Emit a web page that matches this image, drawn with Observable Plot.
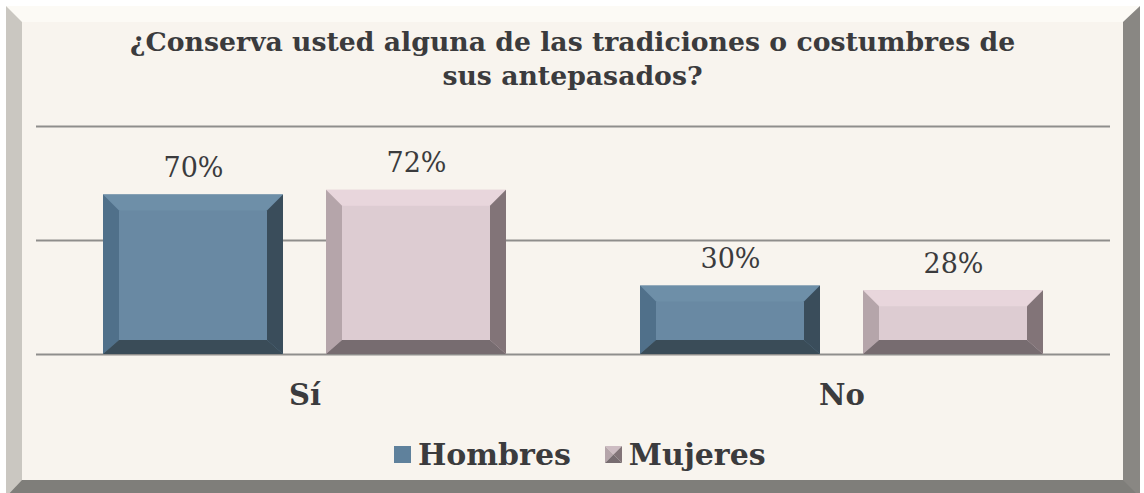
<!DOCTYPE html>
<html>
<head>
<meta charset="utf-8">
<script src="https://cdn.jsdelivr.net/npm/d3@7"></script>
<script src="https://cdn.jsdelivr.net/npm/@observablehq/plot@0.6"></script>
<style>
  html, body { margin: 0; padding: 0; background: #ffffff; }
  #wrap { position: relative; width: 1144px; height: 493px; overflow: hidden; background: #fff; }
  #frame { position: absolute; left: 6px; top: 6px; width: 1101px; height: 458px;
    background: #F8F4EE;
    border-top: 16px solid #FCFAF5; border-left: 16px solid #CAC7C1;
    border-right: 17px solid #898783; border-bottom: 17px solid #7F7E7A; }
  #title { position: absolute; left: 22px; width: 1101px; top: 25px; text-align: center;
    font-family: "DejaVu Serif", serif; font-weight: bold; font-size: 26.7px; line-height: 34px; color: #3B3B3D; }
  #chart { position: absolute; left: 0; top: 0; }
  #legend { position: absolute; top: 437px; left: 394px; font-family: "DejaVu Serif", serif; font-weight: bold;
    font-size: 30px; color: #3B3B3D; display: flex; align-items: center; white-space: nowrap; }
  .sw { display: inline-block; width: 17px; height: 17px; margin-right: 7px; }
</style>
</head>
<body>
<div id="wrap">
  <div id="frame"></div>
  <div id="title"></div>
  <div id="chart"></div>
  <div id="legend"></div>
</div>
<script>
const titleLines = ["¿Conserva usted alguna de las tradiciones o costumbres de", "sus antepasados?"];
const categories = ["Sí", "No"];
const series = ["Hombres", "Mujeres"];
const hombres = [0.70, 0.30];
const mujeres = [0.72, 0.28];
const valueLabels = { Hombres: ["70%", "30%"], Mujeres: ["72%", "28%"] };
const gridTicks = [0, 0.5, 1];

const palette = {
  Hombres: { face: "#6989A3", top: "#6E8FA8", left: "#50708A", right: "#3A4D5B", bottom: "#3A4C58" },
  Mujeres: { face: "#DDCCD2", top: "#E8D6DC", left: "#B5A5AA", right: "#827478", bottom: "#776C70" }
};

const data = [];
categories.forEach((c, i) => {
  data.push({ cat: c, sex: "Hombres", value: hombres[i], label: valueLabels.Hombres[i] });
  data.push({ cat: c, sex: "Mujeres", value: mujeres[i], label: valueLabels.Mujeres[i] });
});

document.getElementById("title").innerHTML = titleLines.join("<br>");

const B = 16, BB = 14;
const ns = "http://www.w3.org/2000/svg";
function poly(g, pts, fill) {
  const p = document.createElementNS(ns, "polygon");
  p.setAttribute("points", pts.map(q => q.join(",")).join(" "));
  p.setAttribute("fill", fill);
  g.appendChild(p);
}

const serif = "DejaVu Serif";
const chart = Plot.plot({
  width: 1144,
  height: 493,
  marginLeft: 35,
  marginRight: 34,
  marginTop: 126,
  marginBottom: 139,
  style: { background: "transparent", fontFamily: serif },
  fx: { domain: categories, padding: 0, axis: null },
  x: { domain: series, paddingInner: 0.193, paddingOuter: 0.30, axis: null },
  y: { domain: [0, 1], axis: null },
  marks: [
    Plot.ruleY(gridTicks, { stroke: "#8F8E8C", strokeWidth: 2 }),
    Plot.barY(data, {
      fx: "cat", x: "sex", y: "value",
      fill: d => palette[d.sex].face,
      render(index, scales, values, dimensions, context, next) {
        const g = next(index, scales, values, dimensions, context);
        const rects = g.querySelectorAll("rect");
        const idx = Array.from(index);
        rects.forEach((r, k) => {
          const d = data[idx[k]];
          const c = palette[d.sex];
          const x1 = +r.getAttribute("x"), w = +r.getAttribute("width");
          const yt = +r.getAttribute("y"), h = +r.getAttribute("height");
          const x2 = x1 + w, yb = yt + h;
          poly(g, [[x1, yt], [x2, yt], [x2 - B, yt + B], [x1 + B, yt + B]], c.top);
          poly(g, [[x1, yt], [x1 + B, yt + B], [x1 + B, yb - BB], [x1, yb]], c.left);
          poly(g, [[x2, yt], [x2, yb], [x2 - B, yb - BB], [x2 - B, yt + B]], c.right);
          poly(g, [[x1, yb], [x2, yb], [x2 - B, yb - BB], [x1 + B, yb - BB]], c.bottom);
        });
        return g;
      }
    }),
    Plot.text(data, {
      fx: "cat", x: "sex", y: "value", text: "label",
      lineAnchor: "bottom", dy: -18, fontSize: 27, fill: "#3B3B3D", fontFamily: serif
    }),
    Plot.text(categories, {
      fx: d => d, text: d => d, frameAnchor: "bottom", lineAnchor: "bottom", dy: 50,
      fontSize: 29, fontWeight: "bold", fill: "#3B3B3D", fontFamily: serif
    })
  ]
});
document.getElementById("chart").appendChild(chart);

// Legend
const leg = document.getElementById("legend");
series.forEach((s, i) => {
  const item = document.createElement("span");
  item.style.display = "inline-flex";
  item.style.alignItems = "center";
  item.style.marginRight = i === 0 ? "34px" : "0";
  const sw = `<svg class="sw" viewBox="0 0 17 17" width="17" height="17">` + (i === 0
    ? `<rect width="17" height="17" fill="#5F819C"/>`
    : `<polygon points="0,0 17,0 8.5,8.5" fill="#CDBCC2"/><polygon points="0,0 8.5,8.5 0,17" fill="#B5A5AA"/><polygon points="17,0 17,17 8.5,8.5" fill="#827478"/><polygon points="0,17 17,17 8.5,8.5" fill="#776C70"/>`) + `</svg>`;
  item.innerHTML = sw + `<span>${s}</span>`;
  leg.appendChild(item);
});
</script>
</body>
</html>
